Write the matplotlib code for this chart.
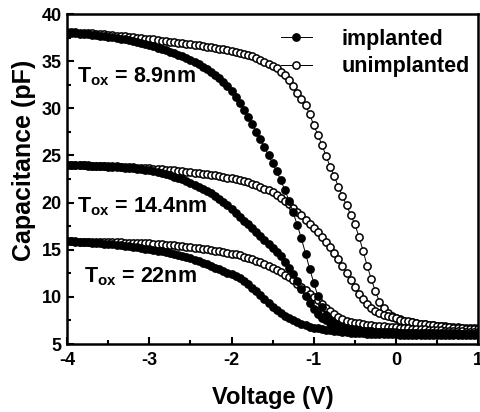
import numpy as np
import matplotlib
matplotlib.use("Agg")
import matplotlib.pyplot as plt
from matplotlib.ticker import MultipleLocator

plt.rcParams['font.family'] = ['Liberation Sans', 'DejaVu Sans']
plt.rcParams['font.weight'] = 'bold'
plt.rcParams['axes.unicode_minus'] = False
plt.rcParams['mathtext.fontset'] = 'custom'
plt.rcParams['mathtext.rm'] = 'Liberation Sans:bold'
plt.rcParams['mathtext.bf'] = 'Liberation Sans:bold'
plt.rcParams['mathtext.it'] = 'Liberation Sans:bold'

# Voltage sweep: -4 V to 1 V in 0.05 V steps
V_START, V_STOP, N_POINTS = -4.0, 1.0, 101
voltage = np.linspace(V_START, V_STOP, N_POINTS)

# Capacitance (pF)
unimp_89 = [
    38.10, 38.08, 38.06, 38.03, 38.00, 37.97, 37.94, 37.91, 37.87, 37.84,
    37.80, 37.76, 37.72, 37.68, 37.63, 37.59, 37.54, 37.50, 37.45, 37.40,
    37.35, 37.30, 37.25, 37.19, 37.14, 37.08, 37.03, 36.97, 36.91, 36.86,
    36.80, 36.73, 36.67, 36.60, 36.53, 36.46, 36.39, 36.32, 36.24, 36.17,
    36.10, 36.00, 35.90, 35.80, 35.66, 35.50, 35.32, 35.12, 34.92, 34.72,
    34.50, 34.24, 33.90, 33.50, 33.00, 32.35, 31.65, 30.95, 30.30, 29.40,
    28.20, 27.20, 26.10, 24.95, 23.80, 22.80, 21.70, 20.70, 19.70, 18.70,
    17.70, 16.40, 14.90, 13.30, 11.90, 10.60, 9.50, 8.80, 8.30, 8.00,
    7.78, 7.62, 7.49, 7.38, 7.29, 7.21, 7.14, 7.08, 7.03, 6.98,
    6.94, 6.90, 6.86, 6.83, 6.80, 6.77, 6.74, 6.72, 6.70, 6.68,
    6.66]
imp_89 = [
    38.00, 37.98, 37.96, 37.93, 37.90, 37.86, 37.82, 37.77, 37.72, 37.67,
    37.61, 37.55, 37.48, 37.40, 37.32, 37.23, 37.13, 37.03, 36.92, 36.81,
    36.69, 36.57, 36.44, 36.30, 36.16, 36.01, 35.85, 35.68, 35.50, 35.31,
    35.11, 34.90, 34.67, 34.43, 34.17, 33.88, 33.55, 33.18, 32.77, 32.32,
    31.80, 31.20, 30.55, 29.85, 29.10, 28.30, 27.50, 26.70, 25.85, 25.00,
    24.20, 23.30, 22.35, 21.30, 20.20, 18.95, 17.60, 16.20, 14.60, 13.00,
    11.50, 10.10, 8.95, 8.10, 7.55, 7.20, 6.98, 6.82, 6.70, 6.61,
    6.54, 6.48, 6.43, 6.39, 6.35, 6.32, 6.29, 6.27, 6.25, 6.23,
    6.21, 6.20, 6.19, 6.18, 6.17, 6.16, 6.15, 6.14, 6.13, 6.12,
    6.11, 6.10, 6.10, 6.09, 6.08, 6.08, 6.07, 6.07, 6.06, 6.06,
    6.05]
unimp_144 = [
    24.00, 23.99, 23.98, 23.97, 23.96, 23.95, 23.93, 23.92, 23.90, 23.89,
    23.87, 23.85, 23.83, 23.81, 23.79, 23.76, 23.74, 23.71, 23.68, 23.65,
    23.62, 23.59, 23.56, 23.52, 23.49, 23.45, 23.41, 23.37, 23.33, 23.28,
    23.23, 23.18, 23.13, 23.07, 23.01, 22.95, 22.88, 22.81, 22.74, 22.66,
    22.58, 22.49, 22.40, 22.30, 22.15, 22.00, 21.85, 21.65, 21.45, 21.30,
    21.15, 20.85, 20.50, 20.15, 19.80, 19.45, 19.05, 18.65, 18.20, 17.75,
    17.30, 16.85, 16.35, 15.80, 15.25, 14.70, 14.05, 13.30, 12.55, 11.80,
    11.05, 10.35, 9.75, 9.25, 8.80, 8.48, 8.25, 8.07, 7.93, 7.82,
    7.72, 7.60, 7.49, 7.39, 7.30, 7.22, 7.15, 7.08, 7.02, 6.97,
    6.92, 6.87, 6.82, 6.78, 6.74, 6.70, 6.66, 6.63, 6.60, 6.57,
    6.54]
imp_144 = [
    24.00, 23.99, 23.98, 23.97, 23.95, 23.93, 23.91, 23.89, 23.86, 23.83,
    23.80, 23.78, 23.76, 23.73, 23.70, 23.67, 23.63, 23.59, 23.55, 23.50,
    23.45, 23.35, 23.25, 23.13, 23.00, 22.88, 22.75, 22.60, 22.45, 22.28,
    22.10, 21.90, 21.70, 21.48, 21.25, 20.98, 20.70, 20.40, 20.10, 19.70,
    19.30, 18.90, 18.50, 18.10, 17.70, 17.30, 16.90, 16.48, 16.05, 15.62,
    15.20, 14.80, 14.30, 13.75, 13.10, 12.40, 11.65, 10.85, 10.05, 9.30,
    8.70, 8.20, 7.80, 7.50, 7.25, 7.05, 6.90, 6.78, 6.68, 6.60,
    6.53, 6.47, 6.42, 6.38, 6.35, 6.32, 6.30, 6.28, 6.26, 6.24,
    6.23, 6.22, 6.21, 6.20, 6.19, 6.18, 6.17, 6.16, 6.16, 6.15,
    6.14, 6.14, 6.13, 6.13, 6.12, 6.12, 6.11, 6.11, 6.10, 6.10,
    6.10]
unimp_22 = [
    15.90, 15.89, 15.88, 15.87, 15.86, 15.85, 15.84, 15.83, 15.82, 15.81,
    15.80, 15.79, 15.78, 15.77, 15.76, 15.75, 15.74, 15.73, 15.72, 15.71,
    15.70, 15.66, 15.62, 15.58, 15.54, 15.50, 15.45, 15.40, 15.35, 15.30,
    15.25, 15.20, 15.15, 15.10, 15.04, 14.98, 14.91, 14.84, 14.76, 14.68,
    14.60, 14.50, 14.40, 14.28, 14.15, 14.00, 13.84, 13.66, 13.47, 13.27,
    13.06, 12.84, 12.61, 12.37, 12.10, 11.75, 11.40, 11.05, 10.70, 10.35,
    10.00, 9.62, 9.25, 8.85, 8.50, 8.18, 7.90, 7.66, 7.48, 7.35,
    7.28, 7.19, 7.12, 7.06, 7.01, 6.96, 6.92, 6.88, 6.84, 6.80,
    6.76, 6.73, 6.70, 6.67, 6.64, 6.61, 6.58, 6.55, 6.53, 6.50,
    6.48, 6.45, 6.43, 6.41, 6.38, 6.36, 6.34, 6.32, 6.30, 6.28,
    6.26]
imp_22 = [
    15.90, 15.88, 15.86, 15.84, 15.82, 15.79, 15.76, 15.73, 15.70, 15.66,
    15.62, 15.58, 15.53, 15.48, 15.43, 15.38, 15.32, 15.26, 15.20, 15.13,
    15.06, 14.99, 14.91, 14.83, 14.74, 14.65, 14.55, 14.44, 14.33, 14.21,
    14.08, 13.94, 13.79, 13.63, 13.46, 13.28, 13.10, 12.92, 12.75, 12.58,
    12.40, 12.20, 11.97, 11.70, 11.35, 10.95, 10.58, 10.18, 9.75, 9.32,
    8.93, 8.58, 8.28, 8.00, 7.75, 7.52, 7.30, 7.12, 6.97, 6.85,
    6.75, 6.65, 6.57, 6.50, 6.44, 6.38, 6.33, 6.28, 6.24, 6.20,
    6.17, 6.14, 6.12, 6.10, 6.08, 6.06, 6.05, 6.04, 6.03, 6.02,
    6.01, 6.00, 5.99, 5.99, 5.98, 5.98, 5.97, 5.97, 5.96, 5.96,
    5.95, 5.95, 5.95, 5.94, 5.94, 5.94, 5.93, 5.93, 5.93, 5.93,
    5.92]

implanted_series = [imp_89, imp_144, imp_22]
unimplanted_series = [unimp_89, unimp_144, unimp_22]
legend_labels = ["implanted", "unimplanted"]
annotations = [r"T$_{\mathbf{ox}}$ = 8.9nm", r"T$_{\mathbf{ox}}$ = 14.4nm", r"T$_{\mathbf{ox}}$ = 22nm"]
annot_pos = [(-3.88, 33.3), (-3.88, 19.6), (-3.80, 12.1)]

fig = plt.figure(figsize=(4.8, 4.12), dpi=100)
ax = fig.add_axes([0.140, 0.165, 0.856, 0.801])

ms, mew, lw = 5.2, 1.1, 0.7
for i, s in enumerate(unimplanted_series):
    ax.plot(voltage, s, '-o', color='black', lw=lw, ms=ms, mew=mew,
            markerfacecolor='white', markeredgecolor='black', zorder=2,
            label=legend_labels[1] if i == 0 else None)
for i, s in enumerate(implanted_series):
    ax.plot(voltage, s, '-o', color='black', lw=lw, ms=ms, mew=mew,
            markerfacecolor='black', markeredgecolor='black', zorder=3,
            label=legend_labels[0] if i == 0 else None)

ax.set_xlim(-4, 1)
ax.set_ylim(5, 40)
ax.xaxis.set_major_locator(MultipleLocator(1))
ax.xaxis.set_minor_locator(MultipleLocator(0.5))
ax.yaxis.set_major_locator(MultipleLocator(5))
ax.yaxis.set_minor_locator(MultipleLocator(2.5))
ax.tick_params(which='both', direction='in', top=False, right=False, width=1.5)
ax.tick_params(which='major', length=5, labelsize=13, pad=6)
ax.tick_params(axis='y', which='major', pad=4)
ax.tick_params(which='minor', length=3)
for sp in ax.spines.values():
    sp.set_linewidth(1.8)

ax.set_xlabel("Voltage (V)", fontsize=17, fontweight='bold', labelpad=12)
ax.set_ylabel("Capacitance (pF)", fontsize=18, fontweight='bold')
ax.yaxis.set_label_coords(-0.075, 0.555)

for txt, (x, y) in zip(annotations, annot_pos):
    ax.text(x, y, txt, fontsize=15.5, fontweight='bold', va='center', ha='left')

handles, labels = ax.get_legend_handles_labels()
order = [labels.index(l) for l in legend_labels]
leg = ax.legend([handles[i] for i in order], [labels[i] for i in order],
                loc='upper left', bbox_to_anchor=(0.52, 0.955), frameon=False,
                fontsize=15.5, handlelength=1.45, handletextpad=1.35,
                labelspacing=0.3, borderpad=0, borderaxespad=0)

fig.savefig("out.png", dpi=100)
